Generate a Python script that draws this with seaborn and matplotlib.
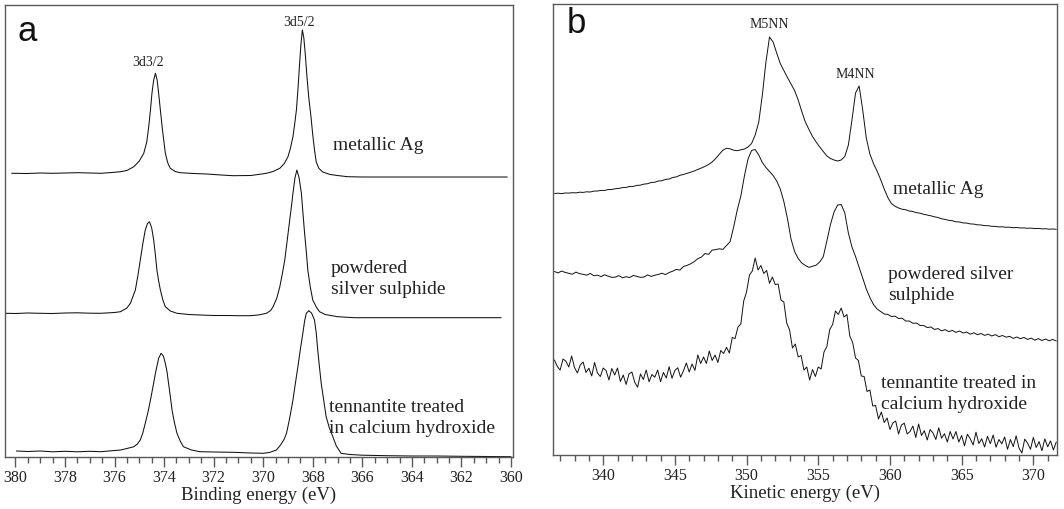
import numpy as np
import matplotlib
matplotlib.use("Agg")
import matplotlib.pyplot as plt
from matplotlib.ticker import MultipleLocator
import seaborn as sns

# ---- panel a: Ag 3d XPS (binding energy, intensity in arbitrary units) ----
be_metal = [380.15, 379.5, 379.0, 378.5, 378.0, 377.5, 377.0, 376.56, 376.0, 375.76, 375.5,
            375.22, 375.0, 374.82, 374.70, 374.62, 374.55, 374.49, 374.42, 374.35, 374.28,
            374.22, 374.15, 374.08, 374.0, 373.95, 373.85, 373.75, 373.55, 373.35, 372.8,
            372.28, 371.7, 371.21, 370.5, 369.87, 369.6, 369.33, 369.15, 369.0, 368.90,
            368.80, 368.73, 368.66, 368.60, 368.54, 368.48, 368.42, 368.36, 368.30, 368.23,
            368.16, 368.08, 368.0, 367.93, 367.86, 367.75, 367.6, 367.3, 367.0, 366.6,
            366.0, 364.0, 362.0, 360.15]
i_metal = [283.7, 283.5, 284.0, 283.7, 284.0, 284.3, 284.0, 283.7, 284.7, 285.3, 286.5,
           290.3, 296.0, 303.7, 315.0, 330.3, 347.0, 363.7, 377.0, 383.7, 377.0,
           363.7, 347.0, 330.3, 314.0, 303.7, 294.0, 288.7, 285.5, 284.3, 283.5,
           283.0, 282.0, 281.3, 281.5, 283.7, 285.5, 288.7, 293.5, 300.3, 309.0,
           320.3, 333.0, 347.0, 367.0, 390.3, 412.0, 427.0, 419.0, 402.0, 379.0,
           359.0, 342.0, 322.0, 307.0, 295.0, 288.5, 285.0, 282.5, 281.5, 280.3,
           280.0, 280.0, 280.0, 280.0]

be_sulph = [380.4, 380.0, 379.5, 379.0, 378.5, 378.0, 377.5, 377.0, 376.56, 376.0, 375.76,
            375.5, 375.36, 375.16, 375.06, 374.96, 374.86, 374.76, 374.67, 374.59, 374.50,
            374.42, 374.35, 374.29, 374.22, 374.15, 374.05, 373.95, 373.75, 373.48, 373.0,
            372.55, 372.0, 371.5, 371.0, 370.54, 370.2, 369.87, 369.70, 369.60, 369.45,
            369.33, 369.23, 369.13, 369.03, 368.93, 368.86, 368.80, 368.72, 368.64, 368.55,
            368.46, 368.40, 368.33, 368.26, 368.20, 368.10, 368.0, 367.86, 367.73, 367.5,
            367.0, 366.32, 364.0, 362.0, 360.4]
i_sulph = [143.7, 143.5, 144.0, 143.7, 143.5, 144.0, 144.2, 143.8, 143.7, 144.5, 145.3,
           149.0, 153.7, 167.0, 181.0, 197.0, 213.0, 227.0, 233.5, 235.3, 229.0,
           217.0, 202.0, 187.0, 176.0, 167.0, 157.0, 150.3, 146.0, 143.7, 142.5,
           142.0, 141.5, 141.5, 141.3, 141.3, 142.0, 143.7, 146.5, 150.3, 159.0,
           170.3, 183.0, 197.0, 217.0, 237.0, 251.0, 263.7, 279.0, 287.0, 279.0,
           263.7, 245.0, 223.7, 205.0, 187.0, 170.0, 157.0, 150.0, 145.3, 142.5,
           140.3, 139.3, 139.3, 139.3, 139.3]

be_tenn = [379.96, 379.5, 379.0, 378.5, 378.0, 377.5, 377.0, 376.56, 376.0, 375.76, 375.5,
           375.22, 375.08, 374.96, 374.86, 374.76, 374.65, 374.55, 374.45, 374.35, 374.22,
           374.12, 374.03, 373.95, 373.88, 373.82, 373.75, 373.68, 373.58, 373.48, 373.35,
           373.22, 372.9, 372.55, 372.0, 371.21, 370.5, 370.0, 369.75, 369.47, 369.3,
           369.15, 369.06, 368.93, 368.80, 368.70, 368.60, 368.50, 368.40, 368.33, 368.26,
           368.16, 368.05, 367.93, 367.86, 367.80, 367.73, 367.66, 367.56, 367.46, 367.33,
           367.19, 367.05, 366.86, 366.5, 366.0, 365.0, 364.0, 363.0, 362.0, 361.0, 360.0]
i_tenn = [6.0, 5.5, 6.0, 5.2, 5.7, 5.2, 5.7, 5.3, 6.5, 7.0, 8.5,
          10.3, 13.0, 17.0, 24.0, 33.7, 45.0, 57.0, 70.0, 83.7, 98.7,
          103.7, 101.0, 93.7, 85.0, 73.7, 61.0, 47.0, 34.0, 23.7, 16.0,
          10.3, 7.0, 5.3, 5.0, 4.7, 4.0, 3.7, 4.5, 7.0, 12.0,
          18.0, 23.7, 39.0, 57.0, 74.0, 90.3, 108.0, 123.7, 136.0, 143.7,
          146.3, 144.0, 137.0, 124.0, 107.0, 90.0, 73.7, 57.0, 40.3, 29.0,
          20.3, 11.0, 3.7, 2.5, 1.8, 1.3, 1.0, 1.0, 0.7, 0.5, 0.3]

# ---- panel b: Ag MNN Auger (kinetic energy) ----
ke_start, ke_step = 336.6, 0.25
i_auger_metal = [
    261.5, 261.8, 261.4, 262.0, 261.9, 262.3, 262.1, 262.8, 262.6, 263.2,
    263.0, 263.9, 264.0, 264.5, 264.6, 265.4, 265.5, 266.3, 266.6, 267.4,
    267.6, 268.5, 268.6, 269.6, 269.9, 270.9, 271.3, 272.5, 272.8, 274.0,
    274.3, 275.6, 276.0, 277.5, 278.1, 279.7, 280.5, 281.6, 282.8, 284.0,
    285.6, 287.0, 288.6, 290.5, 293.0, 296.5, 300.8, 304.8, 306.8, 306.2,
    304.8, 304.3, 305.2, 306.0, 308.0, 311.5, 320.0, 333.0, 360.0, 393.0,
    418.0, 413.0, 402.0, 391.5, 384.5, 377.5, 371.0, 364.5, 355.0, 343.5,
    333.0, 325.5, 318.5, 313.0, 308.0, 303.5, 299.0, 296.5, 295.0, 294.0,
    295.0, 298.5, 310.0, 335.0, 362.0, 369.0, 345.0, 317.0, 301.0, 291.5,
    284.0, 275.5, 266.0, 257.5, 251.5, 248.8, 247.0, 245.8, 245.2, 244.0,
    243.5, 242.3, 241.8, 240.7, 240.0, 239.2, 238.2, 237.5, 236.2, 235.6,
    234.7, 234.3, 233.2, 233.0, 232.1, 231.9, 231.1, 230.9, 230.2, 230.0,
    229.4, 229.3, 228.7, 228.6, 228.1, 228.2, 227.7, 227.8, 227.3, 227.5,
    227.0, 227.1, 226.7, 226.9, 226.4, 226.6, 226.1, 226.3, 225.8, 226.0,
    225.7]
i_auger_sulph = [
    183.5, 182.1, 183.9, 182.6, 181.7, 180.8, 182.9, 181.3, 180.7, 179.8,
    181.6, 179.2, 179.9, 178.4, 180.2, 178.8, 177.6, 177.9, 179.4, 177.2,
    178.3, 177.5, 179.6, 178.6, 177.6, 178.0, 180.1, 178.6, 179.8, 180.6,
    181.8, 180.4, 182.5, 183.8, 185.6, 184.9, 188.5, 189.6, 191.2, 193.4,
    196.3, 197.9, 201.5, 200.6, 204.9, 205.4, 206.2, 205.6, 209.5, 213.3,
    228.0, 245.0, 259.0, 279.0, 296.0, 304.5, 305.5, 300.0, 292.5, 287.5,
    283.5, 279.5, 274.0, 266.0, 253.5, 236.5, 216.0, 203.5, 196.5, 192.0,
    189.5, 187.6, 188.8, 189.8, 193.0, 198.3, 214.0, 230.5, 243.0, 250.0,
    250.5, 242.0, 222.0, 208.0, 198.5, 187.5, 177.0, 166.0, 157.5, 150.5,
    146.0, 143.5, 141.0, 140.6, 138.5, 138.9, 136.5, 136.8, 133.9, 134.0,
    131.7, 132.0, 129.6, 129.5, 127.4, 128.0, 125.6, 126.4, 124.2, 125.4,
    123.3, 124.6, 122.6, 124.0, 122.0, 123.0, 120.8, 122.2, 120.3, 121.5,
    119.6, 120.8, 119.0, 120.4, 118.3, 119.5, 117.8, 118.7, 116.6, 118.0,
    116.3, 117.6, 115.6, 116.9, 114.8, 116.4, 114.5, 116.0, 114.2, 115.6,
    114.0]
ke_step_tenn = 0.2
i_auger_tenn = [
    95.0, 88.5, 85.0, 96.0, 93.8, 88.0, 99.0, 87.5, 82.0, 90.0,
    93.0, 82.5, 86.8, 79.0, 92.5, 82.0, 78.5, 87.0, 84.5, 75.0,
    86.5, 80.0, 87.0, 73.5, 80.0, 70.5, 81.0, 83.0, 72.7, 67.8,
    81.0, 75.5, 85.0, 73.2, 80.5, 77.8, 85.0, 73.3, 82.6, 77.0,
    88.3, 76.7, 84.5, 87.2, 77.8, 84.3, 92.0, 83.0, 91.0, 84.7,
    100.0, 91.5, 98.0, 91.5, 104.0, 94.5, 100.0, 92.5, 104.5, 101.5,
    107.7, 102.0, 117.5, 116.5, 128.0, 131.0, 154.0, 163.0, 180.0, 184.0,
    197.0, 185.0, 189.5, 181.5, 184.5, 171.7, 178.0, 170.5, 171.0, 155.0,
    153.0, 132.0, 125.0, 107.0, 111.0, 98.0, 99.5, 85.0, 88.0, 75.0,
    85.5, 78.5, 88.0, 86.0, 103.0, 108.5, 125.5, 130.5, 144.0, 140.5,
    147.0, 138.0, 140.5, 119.0, 112.5, 97.0, 94.5, 79.0, 78.5, 63.5,
    65.0, 49.0, 49.5, 36.0, 43.0, 32.5, 37.0, 25.5, 32.0, 34.0,
    21.0, 30.0, 31.8, 21.0, 23.5, 29.0, 17.5, 31.0, 19.5, 24.3,
    15.0, 25.5, 22.0, 15.5, 27.2, 16.8, 21.3, 13.0, 23.5, 16.0,
    23.5, 13.0, 19.5, 9.2, 20.8, 16.3, 10.0, 22.8, 11.5, 16.2,
    8.0, 18.7, 11.4, 20.0, 7.8, 15.5, 11.2, 18.0, 5.7, 15.5,
    8.3, 19.2, 7.0, 2.0, 15.9, 11.8, 5.7, 17.6, 7.5, 13.4,
    4.3, 16.2, 8.2, 14.1, 5.0, 13.0]

ke_metal = ke_start + ke_step * np.arange(len(i_auger_metal))
ke_sulph = ke_start + ke_step * np.arange(len(i_auger_sulph))
ke_tenn = ke_start + ke_step_tenn * np.arange(len(i_auger_tenn))

sns.set_theme(style="white")
plt.rcParams['font.family'] = ['Liberation Serif', 'DejaVu Serif']

frame_col = '#5a5a5a'
fig = plt.figure(figsize=(10.64, 5.09), dpi=100)
ax_a = fig.add_axes([5 / 1064, 52 / 509, 508 / 1064, 452 / 509])
ax_b = fig.add_axes([553 / 1064, 54 / 509, 504 / 1064, 451 / 509])

for be, inten in [(be_metal, i_metal), (be_sulph, i_sulph), (be_tenn, i_tenn)]:
    sns.lineplot(x=be, y=inten, ax=ax_a, color='#111111', linewidth=0.75,
                 estimator=None, sort=False)
for ke, inten in [(ke_metal, i_auger_metal), (ke_sulph, i_auger_sulph),
                  (ke_tenn, i_auger_tenn)]:
    sns.lineplot(x=ke, y=inten, ax=ax_b, color='#111111', linewidth=0.7,
                 estimator=None, sort=False)

ax_a.set_xlim(380.42, 359.92)
ax_a.set_ylim(0, 452)
ax_b.set_xlim(336.5, 371.65)
ax_b.set_ylim(0, 451)

ax_a.xaxis.set_major_locator(MultipleLocator(2))
ax_a.xaxis.set_minor_locator(MultipleLocator(0.5))
ax_b.xaxis.set_major_locator(MultipleLocator(5))
ax_b.xaxis.set_minor_locator(MultipleLocator(1))

for ax, xlabel in [(ax_a, 'Binding energy (eV)'), (ax_b, 'Kinetic energy (eV)')]:
    ax.set_yticks([])
    ax.set_ylabel('')
    ax.set_xlabel(xlabel, fontsize=13.5, labelpad=1, color='#222222')
    for sp in ax.spines.values():
        sp.set_visible(True)
        sp.set_color(frame_col)
        sp.set_linewidth(1.0)
    ax.tick_params(axis='x', which='major', direction='out', length=7, width=1,
                   color=frame_col, labelsize=11.5, pad=2, labelcolor='#222222', bottom=True)
    ax.tick_params(axis='x', which='minor', direction='out', length=4.5, width=1,
                   color=frame_col, bottom=True)

txt = dict(fontsize=14, color='#222222', linespacing=1.3)
small = dict(fontsize=10, color='#222222', ha='center', va='center')

ax_a.text(374.65, 395, '3d3/2', **small)
ax_a.text(368.57, 434, '3d5/2', **small)
ax_a.text(367.2, 312, 'metallic Ag', va='center', **txt)
ax_a.text(367.27, 178, 'powdered\nsilver sulphide', va='center', **txt)
ax_a.text(367.34, 39, 'tennantite treated\nin calcium hydroxide', va='center', **txt)
ax_a.text(0.024, 0.92, 'a', transform=ax_a.transAxes, fontsize=25,
          family='Liberation Sans', va='baseline', color='#111111')

ax_b.text(351.6, 430, 'M5NN', **small)
ax_b.text(357.56, 380, 'M4NN', **small)
ax_b.text(360.23, 265, 'metallic Ag', va='center', **txt)
ax_b.text(359.88, 170, 'powdered silver\nsulphide', va='center', **txt)
ax_b.text(359.35, 61, 'tennantite treated in\ncalcium hydroxide', va='center', **txt)
ax_b.text(0.028, 0.936, 'b', transform=ax_b.transAxes, fontsize=25,
          family='Liberation Sans', va='baseline', color='#111111')

fig.savefig('out.png', dpi=100)
plt.close(fig)
